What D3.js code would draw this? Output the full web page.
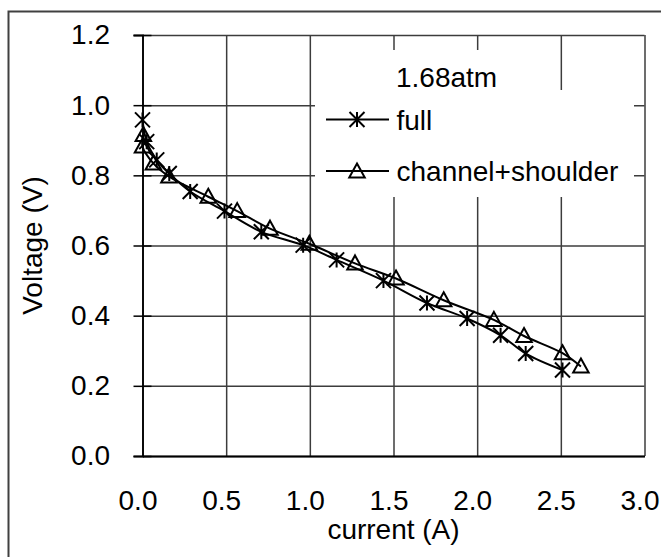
<!DOCTYPE html>
<html>
<head>
<meta charset="utf-8">
<script src="https://cdn.jsdelivr.net/npm/d3@7"></script>
<style>
  html, body { margin: 0; padding: 0; background: #fff; }
  svg { display: block; }
  text { font-family: "Liberation Sans", Arial, sans-serif; fill: #000; }
</style>
</head>
<body>
<svg id="chart" width="661" height="557"></svg>
<script>
// ---- data ----
const xTicks = [0.0, 0.5, 1.0, 1.5, 2.0, 2.5, 3.0];
const yTicks = [0.0, 0.2, 0.4, 0.6, 0.8, 1.0, 1.2];
const xTickLabels = ["0.0", "0.5", "1.0", "1.5", "2.0", "2.5", "3.0"];
const yTickLabels = ["0.0", "0.2", "0.4", "0.6", "0.8", "1.0", "1.2"];

const fullCurrent = [0.00, 0.025, 0.085, 0.16, 0.285, 0.49, 0.71, 0.96, 1.16, 1.44, 1.70, 1.94, 2.14, 2.29, 2.51];
const fullVoltage = [0.958, 0.896, 0.844, 0.805, 0.754, 0.698, 0.639, 0.601, 0.559, 0.500, 0.436, 0.392, 0.344, 0.292, 0.245];

const chanCurrent = [0.005, 0.00, 0.065, 0.158, 0.393, 0.566, 0.762, 0.997, 1.27, 1.515, 1.80, 2.10, 2.28, 2.51, 2.62];
const chanVoltage = [0.915, 0.882, 0.834, 0.797, 0.739, 0.698, 0.648, 0.605, 0.549, 0.506, 0.444, 0.388, 0.342, 0.293, 0.255];

const seriesNames = ["full", "channel+shoulder"];
const titleText = "1.68atm";
const xTitle = "current (A)";
const yTitle = "Voltage (V)";

(function () {
// ---- layout ----
const svg = d3.select("#chart");
const pL = 142.5, pR = 644.5, pT = 35, pB = 456;
const x = d3.scaleLinear().domain([0, 3]).range([pL, pR]);
const y = d3.scaleLinear().domain([0, 1.2]).range([pB, pT]);
const FONT = 28;
const gridColor = "#3c3c3c";

// outer chart border
svg.append("rect")
  .attr("x", 8.5).attr("y", 11.5).attr("width", 700).attr("height", 600)
  .attr("fill", "none").attr("stroke", "#404040").attr("stroke-width", 2);

// gridlines
const gx = svg.append("g").attr("transform", `translate(0,${pB})`)
  .call(d3.axisBottom(x).tickValues(xTicks).tickSize(-(pB - pT)).tickFormat(""));
gx.select(".domain").remove();
gx.selectAll("line").attr("stroke", gridColor).attr("stroke-width", 1.5);

const gy = svg.append("g").attr("transform", `translate(${pL},0)`)
  .call(d3.axisLeft(y).tickValues(yTicks).tickSize(-(pR - pL)).tickFormat(""));
gy.select(".domain").remove();
gy.selectAll("line").attr("stroke", gridColor).attr("stroke-width", 1.5);

// white boxes of title and legend (cover gridlines)
svg.append("rect").attr("x", 385).attr("y", 50).attr("width", 140).attr("height", 45).attr("fill", "#fff");
svg.append("rect").attr("x", 315).attr("y", 90).attr("width", 319).attr("height", 107).attr("fill", "#fff");

// y axis with cross ticks and labels
const ya = svg.append("g").attr("transform", `translate(${pL},0)`)
  .call(d3.axisLeft(y).tickValues(yTicks).tickSize(9).tickPadding(23.5)
    .tickFormat((d, i) => yTickLabels[i]));
ya.select(".domain").attr("stroke", "#000").attr("stroke-width", 1.8);
ya.selectAll(".tick line").attr("x1", 9).attr("stroke", "#000").attr("stroke-width", 1.5);
ya.selectAll("text").attr("font-size", FONT).attr("font-family", "Liberation Sans, Arial, sans-serif");

// x axis labels
const xa = svg.append("g").attr("transform", `translate(0,${pB})`)
  .call(d3.axisBottom(x).tickValues(xTicks).tickSize(0).tickPadding(34)
    .tickFormat((d, i) => xTickLabels[i]));
xa.select(".domain").attr("stroke", "#000").attr("stroke-width", 1.8);
xa.selectAll("text").attr("font-size", FONT).attr("x", -5)
  .attr("font-family", "Liberation Sans, Arial, sans-serif");

// axis titles
svg.append("text").attr("x", (pL + pR) / 2).attr("y", 539)
  .attr("text-anchor", "middle").attr("font-size", FONT).text(xTitle);
svg.append("text").attr("transform", `translate(42,${(pT + pB) / 2}) rotate(-90)`)
  .attr("text-anchor", "middle").attr("font-size", FONT).text(yTitle);

// series
const full = fullCurrent.map((c, i) => ({ c, v: fullVoltage[i] }));
const chan = chanCurrent.map((c, i) => ({ c, v: chanVoltage[i] }));
const line = d3.line().x(d => x(d.c)).y(d => y(d.v)).curve(d3.curveCatmullRom.alpha(0.5));

const S = 7.5;
function star(g, cx, cy) {
  const p = `M${cx},${cy - S}L${cx},${cy + S}M${cx - S},${cy - S}L${cx + S},${cy + S}M${cx - S},${cy + S}L${cx + S},${cy - S}`;
  g.append("path").attr("d", p).attr("stroke", "#000").attr("stroke-width", 2).attr("fill", "none");
}
function tri(g, cx, cy) {
  const h = 14, w = 15.5;
  const p = `M${cx},${cy - h / 2 - 1}L${cx + w / 2},${cy + h / 2 - 1}L${cx - w / 2},${cy + h / 2 - 1}Z`;
  g.append("path").attr("d", p).attr("stroke", "#000").attr("stroke-width", 2).attr("fill", "none");
}

svg.append("path").datum(chan).attr("d", line).attr("fill", "none").attr("stroke", "#000").attr("stroke-width", 2);
svg.append("path").datum(full).attr("d", line).attr("fill", "none").attr("stroke", "#000").attr("stroke-width", 2);
const mk = svg.append("g");
chan.forEach(d => tri(mk, x(d.c), y(d.v)));
full.forEach(d => star(mk, x(d.c), y(d.v)));

// legend
svg.append("text").attr("x", 396).attr("y", 86.5).attr("font-size", FONT).text(titleText);
const lg = svg.append("g");
lg.append("line").attr("x1", 326).attr("x2", 389).attr("y1", 119.5).attr("y2", 119.5).attr("stroke", "#000").attr("stroke-width", 2);
star(lg, 357, 119.5);
lg.append("text").attr("x", 396.5).attr("y", 129.5).attr("font-size", FONT).text(seriesNames[0]);
lg.append("line").attr("x1", 326).attr("x2", 389).attr("y1", 171).attr("y2", 171).attr("stroke", "#000").attr("stroke-width", 2);
tri(lg, 357, 171.5);
lg.append("text").attr("x", 396.5).attr("y", 180.5).attr("font-size", FONT).text(seriesNames[1]);
})();
</script>
</body>
</html>
